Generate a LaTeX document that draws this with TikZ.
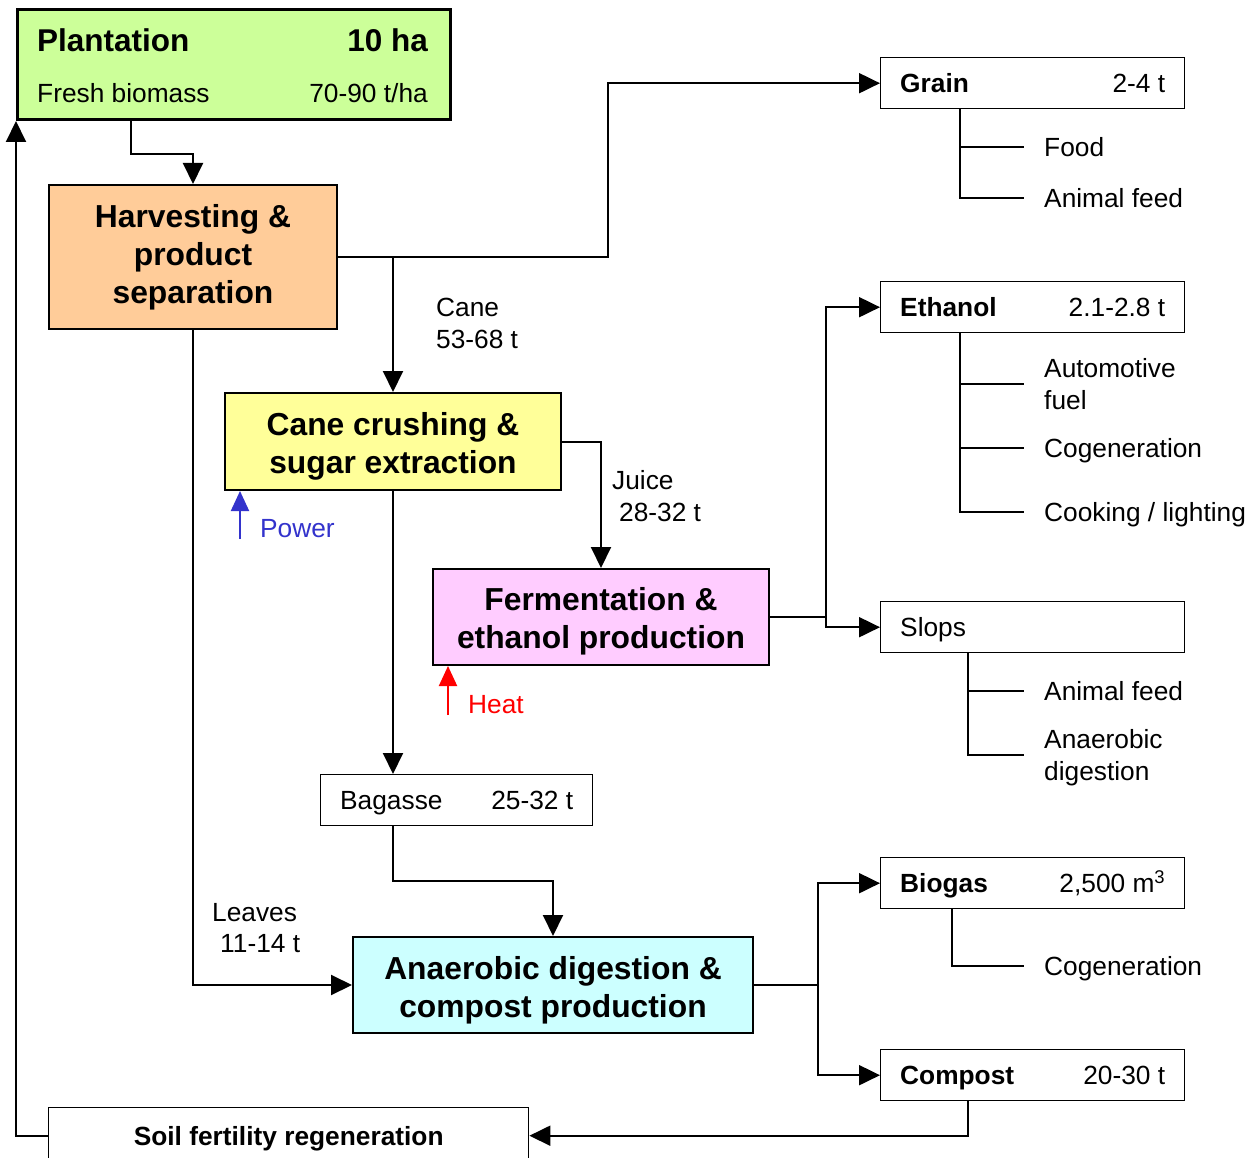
\documentclass[tikz,border=0pt]{standalone}
\usepackage{fontspec}
\setmainfont{Liberation Sans}
\usetikzlibrary{arrows.meta,calc}
\definecolor{plantfill}{HTML}{CCFF99}
\definecolor{harvfill}{HTML}{FFCC99}
\definecolor{crushfill}{HTML}{FFFF99}
\definecolor{fermfill}{HTML}{FFCCFF}
\definecolor{digestfill}{HTML}{CCFFFF}
\definecolor{powerblue}{HTML}{3333CC}
\definecolor{heatred}{HTML}{FF0000}
\tikzset{
  procbox/.style={draw, line width=2pt, inner sep=0pt, anchor=north west},
  proctext/.style={inner sep=0pt, align=center, font=\fontsize{31.8}{38}\selectfont\bfseries},
  prodbox/.style={draw, line width=1.4pt, inner sep=0pt, anchor=north west, minimum width=304pt, minimum height=51pt},
  lbl/.style={inner sep=0pt, text height=18.8pt, text depth=0pt, font=\fontsize{26.3}{32}\selectfont},
  blbl/.style={lbl, font=\fontsize{26.3}{32}\selectfont\bfseries},
  biglbl/.style={inner sep=0pt, text height=22.6pt, text depth=0pt, font=\fontsize{31.5}{38}\selectfont\bfseries},
  flow/.style={line width=2pt, -{Triangle[length=21pt,width=20pt]}},
  link/.style={line width=2pt},
  branch/.style={line width=1.8pt},
  supply/.style={line width=2pt, -{Triangle[length=20pt,width=18pt]}},
}
\begin{document}
\begin{tikzpicture}[x=1pt,y=-1pt]
\useasboundingbox (0,0) rectangle (1250,1158);
\clip (0,0) rectangle (1250,1158);

% ---- process boxes ----
\node[procbox, line width=3pt, fill=plantfill, minimum width=433pt, minimum height=110pt] (plant) at (16,8) {};
\node[biglbl, anchor=west] (plantname) at (37,40) {Plantation};
\node[biglbl, anchor=east] (plantarea) at (428,40) {10 ha};
\node[lbl, anchor=west] (plantbio) at (37,93) {Fresh biomass};
\node[lbl, anchor=east] (plantyield) at (428,93) {70-90 t/ha};

\node[procbox, fill=harvfill, minimum width=288pt, minimum height=144pt] (harv) at (48,184) {};
\node[proctext] (harvtext) at (harv.center) {Harvesting \&\\product\\separation};

\node[procbox, fill=crushfill, minimum width=336pt, minimum height=97pt] (crush) at (224,392) {};
\node[proctext, yshift=-5pt] (crushtext) at (crush.center) {Cane crushing \&\\sugar extraction};

\node[procbox, fill=fermfill, minimum width=336pt, minimum height=96pt] (ferm) at (432,568) {};
\node[proctext, yshift=-4pt] (fermtext) at (ferm.center) {Fermentation \&\\ethanol production};

\node[procbox, fill=digestfill, minimum width=400pt, minimum height=96pt] (digest) at (352,936) {};
\node[proctext, yshift=-5pt] (digesttext) at (digest.center) {Anaerobic digestion \&\\compost production};

% ---- product boxes ----
\node[prodbox, minimum width=272pt] (bag) at (320,774) {};
\node[lbl, anchor=west] (bagname) at ([xshift=20pt]bag.west) {Bagasse};
\node[lbl, anchor=east] (bagamt) at ([xshift=-20pt]bag.east) {25-32 t};

\node[prodbox, minimum width=480pt, minimum height=56pt, text height=18.8pt, text depth=0pt,
      font=\fontsize{26.3}{32}\selectfont\bfseries] (soil) at (48,1107) {Soil fertility regeneration};

\node[prodbox] (grain) at (880,57) {};
\node[blbl, anchor=west] (grainname) at ([xshift=20pt]grain.west) {Grain};
\node[lbl, anchor=east] (grainamt) at ([xshift=-20pt]grain.east) {2-4 t};

\node[prodbox] (eth) at (880,281) {};
\node[blbl, anchor=west] (ethname) at ([xshift=20pt]eth.west) {Ethanol};
\node[lbl, anchor=east] (ethamt) at ([xshift=-20pt]eth.east) {2.1-2.8 t};

\node[prodbox] (slops) at (880,601) {};
\node[lbl, anchor=west] (slopsname) at ([xshift=20pt]slops.west) {Slops};

\node[prodbox] (biogas) at (880,857) {};
\node[blbl, anchor=west] (biogasname) at ([xshift=20pt]biogas.west) {Biogas};
\node[lbl, anchor=east] (biogasamt) at ([xshift=-20pt]biogas.east) {2,500 m\textsuperscript{3}};

\node[prodbox] (compost) at (880,1049) {};
\node[blbl, anchor=west] (compostname) at ([xshift=20pt]compost.west) {Compost};
\node[lbl, anchor=east] (compostamt) at ([xshift=-20pt]compost.east) {20-30 t};

% ---- uses of each product ----
\node[lbl, anchor=west] (food) at (1044,147) {Food};
\node[lbl, anchor=west] (gfeed) at (1044,198) {Animal feed};
\coordinate (gstem) at ([xshift=80pt]grain.south west);
\draw[branch] (gstem) |- ([xshift=-20pt]food.west);
\draw[branch] (gstem) |- ([xshift=-20pt]gfeed.west);

\node[lbl, anchor=west] (auto) at (1044,368) {Automotive};
\node[lbl, anchor=west] (fuel) at (1044,400) {fuel};
\node[lbl, anchor=west] (ecogen) at (1044,448) {Cogeneration};
\node[lbl, anchor=west] (cook) at (1044,512) {Cooking / lighting};
\coordinate (estem) at ([xshift=80pt]eth.south west);
\draw[branch] (estem) |- ($(auto.west)!0.5!(fuel.west)+(-20,0)$);
\draw[branch] (estem) |- ([xshift=-20pt]ecogen.west);
\draw[branch] (estem) |- ([xshift=-20pt]cook.west);

\node[lbl, anchor=west] (sfeed) at (1044,691) {Animal feed};
\node[lbl, anchor=west] (sdig1) at (1044,739) {Anaerobic};
\node[lbl, anchor=west] (sdig2) at (1044,771) {digestion};
\coordinate (sstem) at ([xshift=88pt]slops.south west);
\draw[branch] (sstem) |- ([xshift=-20pt]sfeed.west);
\draw[branch] (sstem) |- ($(sdig1.west)!0.5!(sdig2.west)+(-20,0)$);

\node[lbl, anchor=west] (bcogen) at (1044,966) {Cogeneration};
\coordinate (bstem) at ([xshift=72pt]biogas.south west);
\draw[branch] (bstem) |- ([xshift=-20pt]bcogen.west);

% ---- material flows ----
\draw[flow] ([xshift=115pt]plant.south west) -- ++(0,33) -| (harv.north);
\draw[flow] (harv.east) -| ([xshift=-272pt]grain.west) -- (grain.west);
\draw[flow] (harv.east -| crush.north) -- (crush.north);
\draw[flow] (harv.south) |- (digest.west);
\draw[flow] (crush.east) -| (ferm.north);
\draw[flow] (crush.south) -- (crush.south |- bag.north);
\draw[flow] (crush.south |- bag.south) -- ++(0,55) -| (digest.north);

\draw[link] (ferm.east) -- ++(56,0) coordinate (fjoin);
\draw[flow] (fjoin) |- (eth.west);
\draw[flow] (fjoin) |- (slops.west);

\draw[link] (digest.east) -- ++(64,0) coordinate (djoin);
\draw[flow] (djoin) |- (biogas.west);
\draw[flow] (djoin) |- (compost.west);

\draw[flow] ([xshift=88pt]compost.south west) |- (soil.east);
\draw[flow] (soil.west) -| (plant.south west);

% ---- flow quantities ----
\node[lbl, anchor=west] (cane1) at (436,307) {Cane};
\node[lbl, anchor=west] (cane2) at (436,339) {53-68 t};
\node[lbl, anchor=west] (juice1) at (612,480) {Juice};
\node[lbl, anchor=west] (juice2) at (619,512) {28-32 t};
\node[lbl, anchor=west] (leaves1) at (212,912) {Leaves};
\node[lbl, anchor=west] (leaves2) at (220,943) {11-14 t};

% ---- energy inputs ----
\coordinate (powerfoot) at ([xshift=16pt,yshift=-48pt]crush.south west);
\draw[supply, powerblue] (powerfoot) -- (powerfoot |- crush.south);
\node[lbl, anchor=west, text=powerblue] (power) at (260,528) {Power};
\coordinate (heatfoot) at ([xshift=16pt,yshift=-49pt]ferm.south west);
\draw[supply, heatred] (heatfoot) -- (heatfoot |- ferm.south);
\node[lbl, anchor=west, text=heatred] (heat) at (468,704) {Heat};
\end{tikzpicture}
\end{document}
